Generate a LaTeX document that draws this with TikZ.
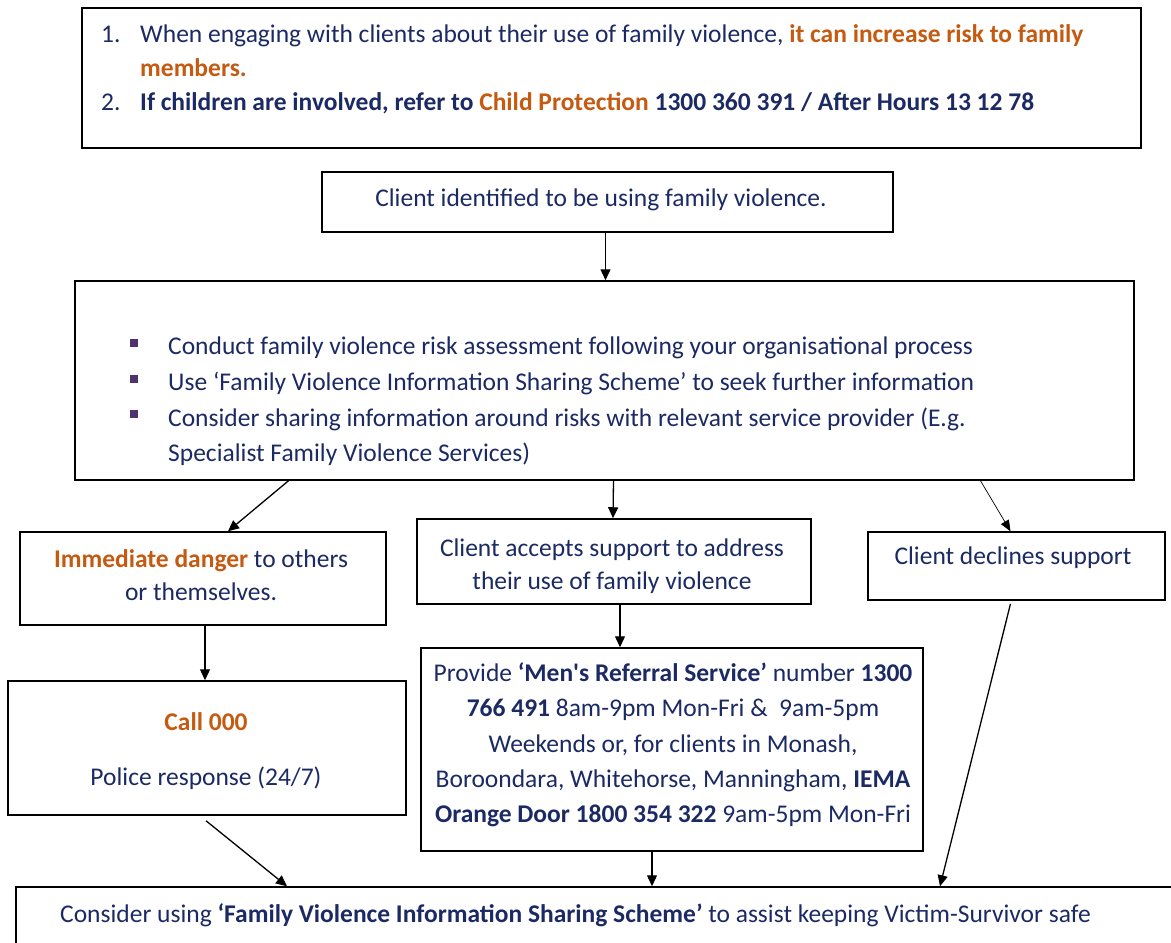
\documentclass[tikz,border=0pt]{standalone}
\usepackage{fontspec}
\setmainfont{Carlito}
\newfontfamily\rawfont{Carlito}[Ligatures=TeXOff]
\usetikzlibrary{arrows.meta,fit,calc}
\definecolor{navy}{RGB}{28,42,100}
\definecolor{orng}{RGB}{197,90,17}
\definecolor{bul}{RGB}{80,50,110}
\begin{document}
\begin{tikzpicture}[x=1pt,y=-1pt,
  box/.style={draw=black,line width=1.5pt,inner sep=0pt,fill=white},
  txt/.style={font=\fontsize{25.5}{30}\selectfont,text=navy,inner sep=0pt},
  arr/.style={line width=1.3pt,-{Triangle[length=11pt,width=10pt]}},
  thinarr/.style={line width=0.7pt,-{Triangle[length=11pt,width=9pt]}},
  bsq/.style={fill=bul,minimum size=8pt,inner sep=0pt}]
\useasboundingbox (0,0) rectangle (1171,943);
% boxes
\node[box,fit={(82,8) (1141,148)}] (top) {};
\node[box,fit={(322,172) (893,232)}] (client) {};
\node[box,fit={(75,281) (1134,480)}] (big) {};
\node[box,fit={(20,532) (386,625)}] (danger) {};
\node[box,fit={(417,519) (811,604)}] (accepts) {};
\node[box,fit={(868,532) (1165,600)}] (declines) {};
\node[box,fit={(8,681) (406,815)}] (call) {};
\node[box,fit={(421,648) (923,851)}] (mens) {};
\node[box,fit={(16,887) (1200,980)}] (bottom) {};
% top box text
\node[txt,anchor=base west] (n1) at (101,42) {1.};
\node[txt,anchor=base west] (t1) at (140,42) {When engaging with clients about their use of family violence, \textcolor{orng}{\textbf{it can increase risk to family}}};
\node[txt,anchor=base west] (t1b) at (140,76) {\textcolor{orng}{\textbf{members.}}};
\node[txt,anchor=base west] (n2) at (101,110) {2.};
\node[txt,anchor=base west] (t2) at (140,110) {\textbf{If children are involved, refer to \textcolor{orng}{Child Protection} 1300 360 391 / After Hours 13 12 78}};
% client identified
\node[txt,anchor=base] (tc) at (601,206) {Client identified to be using family violence.};
% big box bullets
\node[bsq] (b1) at (134,343) {};
\node[bsq] (b2) at (134,379) {};
\node[bsq] (b3) at (134,414) {};
\node[txt,anchor=base west] (l1) at (168,354) {Conduct family violence risk assessment following your organisational process};
\node[txt,anchor=base west] (l2) at (168,390) {Use ‘Family Violence Information Sharing Scheme’ to seek further information};
\node[txt,anchor=base west] (l3) at (168,426) {Consider sharing information around risks with relevant service provider (E.g.};
\node[txt,anchor=base west] (l4) at (168,461) {Specialist Family Violence Services)};
% danger
\node[txt,anchor=base] (d1) at (201,567) {\textcolor{orng}{\textbf{Immediate danger}} to others};
\node[txt,anchor=base] (d2) at (201,600) {or themselves.};
% accepts
\node[txt,anchor=base] (a1) at (612,556) {Client accepts support to address};
\node[txt,anchor=base] (a2) at (612,589) {their use of family violence};
% declines
\node[txt,anchor=base] (dc) at (1013,564) {Client declines support};
% call
\node[txt,anchor=base] (c1) at (206,730) {\textcolor{orng}{\textbf{Call 000}}};
\node[txt,anchor=base] (c2) at (206,785) {Police response (24/7)};
% mens
\node[txt,anchor=base] (m1) at (673,681) {Provide \textbf{‘Men{\rawfont '}s Referral Service’} number \textbf{1300}};
\node[txt,anchor=base] (m2) at (673,716) {\textbf{766 491} 8am-9pm Mon-Fri \&\ \ 9am-5pm};
\node[txt,anchor=base] (m3) at (673,752) {Weekends or, for clients in Monash,};
\node[txt,anchor=base] (m4) at (673,787) {Boroondara, Whitehorse, Manningham, \textbf{IEMA}};
\node[txt,anchor=base] (m5) at (673,822) {\textbf{Orange Door 1800 354 322} 9am-5pm Mon-Fri};
% bottom
\node[txt,anchor=base west] (bt) at (60,922) {Consider using \textbf{‘Family Violence Information Sharing Scheme’} to assist keeping Victim-Survivor safe};
% connectors
\draw[arr] ([xshift=-2pt]client.south) -- ([xshift=-2pt]client.south |- big.north);
\draw[arr] ([xshift=-316pt]big.south) -- ([xshift=25pt]danger.north);
\draw[arr] ([xshift=9pt]big.south) -- ([xshift=-1pt]accepts.north);
\draw[thinarr] ([xshift=376pt]big.south) -- ([xshift=-6pt]declines.north);
\draw[arr] ([xshift=2pt]danger.south) -- ([xshift=-2pt]call.north);
\draw[arr] ([xshift=6pt]accepts.south) -- ([xshift=-52pt]mens.north);
\draw[arr] ([xshift=-1pt,yshift=-5pt]call.south) -- ([xshift=-321pt]bottom.north);
\draw[arr] ([xshift=-20pt]mens.south) -- ([xshift=44pt]bottom.north);
\draw[arr] ([xshift=-6pt,yshift=-3pt]declines.south) -- ([xshift=332pt]bottom.north);
\end{tikzpicture}
\end{document}
